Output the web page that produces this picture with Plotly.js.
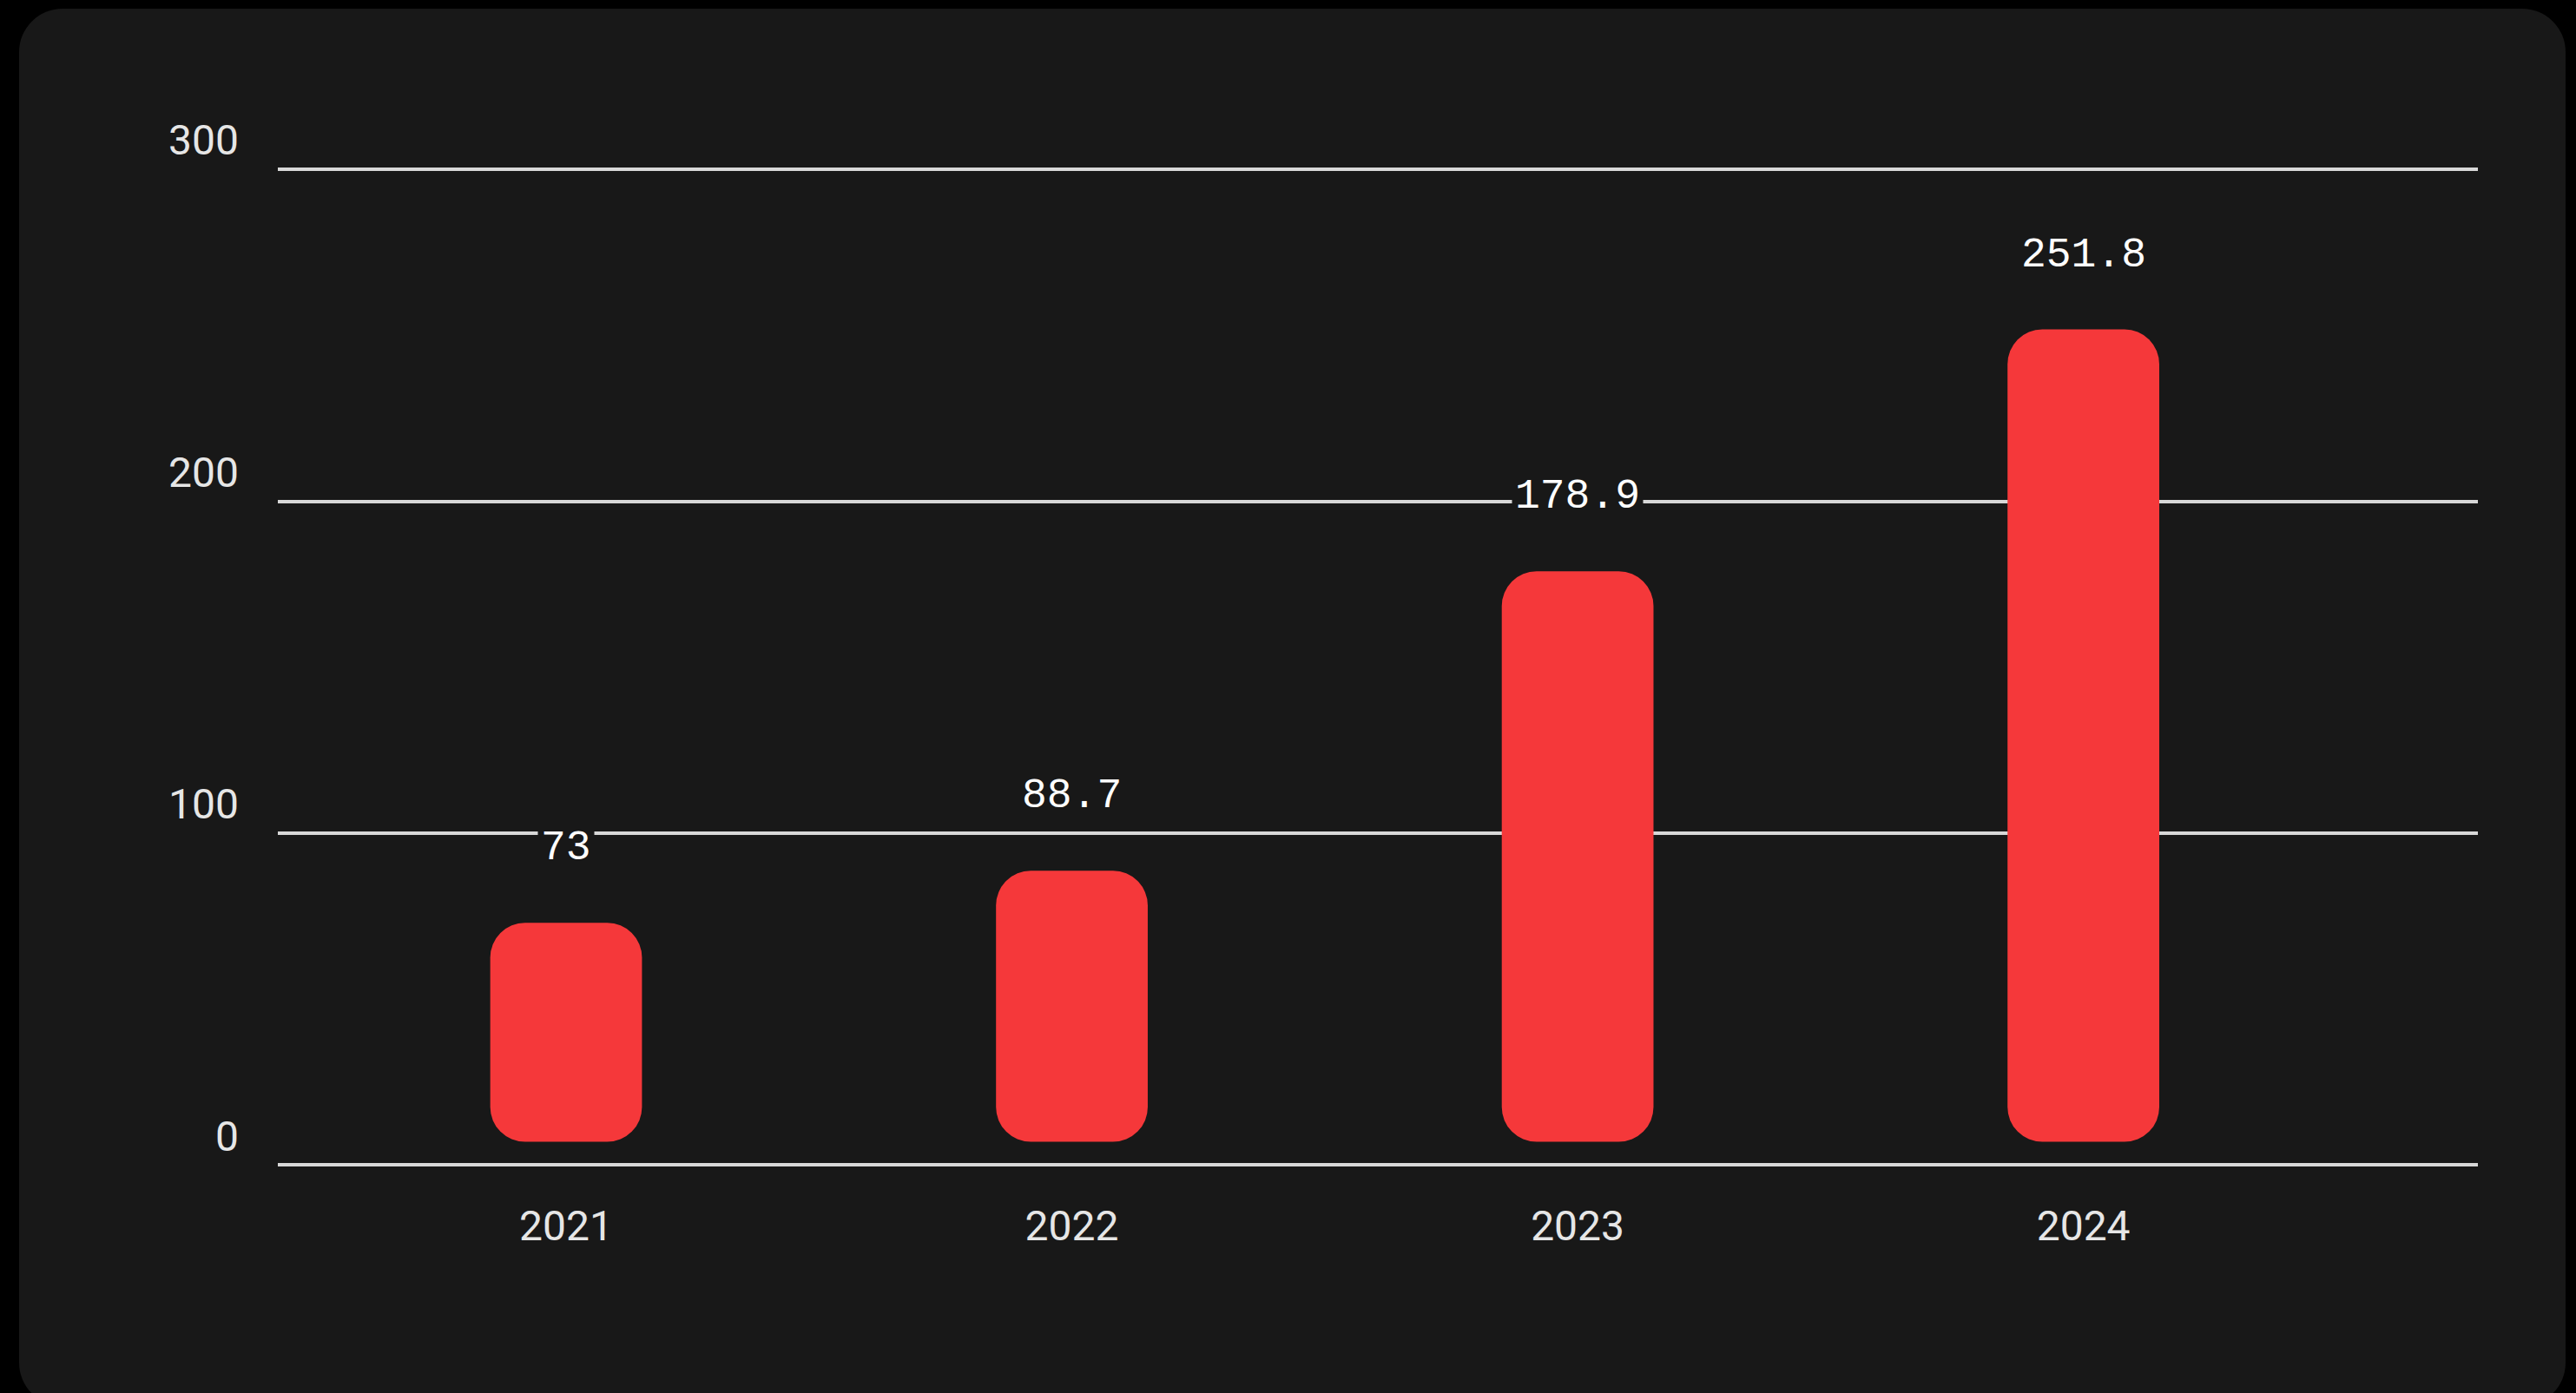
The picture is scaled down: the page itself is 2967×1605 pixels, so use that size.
<!DOCTYPE html>
<html>
<head>
<meta charset="utf-8">
<script src="https://cdn.plot.ly/plotly-3.0.1.min.js"></script>
<style>
  html, body { margin: 0; padding: 0; background: #000000; width: 2967px; height: 1605px; overflow: hidden; }
  #card { position: absolute; left: 22px; top: 10px; width: 2933px; height: 1610px; background: #181818; border-radius: 50px; }
  #chart { position: absolute; left: 0; top: 0; width: 2967px; height: 1605px; }
</style>
</head>
<body>
<div id="card"></div>
<div id="chart"></div>
<script>
// ---- data ----
const years = ['2021', '2022', '2023', '2024'];
const values = [73, 88.7, 178.9, 251.8];
const valueLabels = ['73', '88.7', '178.9', '251.8'];
const yTickValues = [0, 100, 200, 300];
const yTickLabels = ['0', '100', '200', '300'];

// ---- style ----
const RED = '#F5383A';
const GAP = 7;            // visual gap between bar foot and the baseline (axis units)
const BAR_W = 0.3;
const RADIUS = 40;

const bars = {
  type: 'bar', x: years, y: values.map(v => v - GAP), base: GAP,
  width: BAR_W, marker: { color: RED, cornerradius: RADIUS, line: { width: 0 } },
  hoverinfo: 'skip', showlegend: false
};

// annotation x given as category index (numeric-looking category names are read as indices)
const annotations = years.map((yr, i) => ({
  x: years.indexOf(yr), y: values[i], xref: 'x', yref: 'y',
  text: valueLabels[i], showarrow: false,
  yanchor: 'middle', yshift: 86,
  font: { family: 'Liberation Mono, DejaVu Sans Mono, monospace', size: 48, color: '#ffffff' },
  bgcolor: '#181818', borderpad: 3
}));

const layout = {
  width: 2967, height: 1605,
  paper_bgcolor: 'rgba(0,0,0,0)', plot_bgcolor: 'rgba(0,0,0,0)',
  margin: { l: 320, r: 113, t: 157, b: 255, pad: 0 },
  showlegend: false,
  xaxis: {
    type: 'category', range: [-0.57, 3.78], fixedrange: true,
    showgrid: false, zeroline: false, showline: false, ticks: '',
    tickfont: { family: 'Roboto', size: 48, color: '#e6e6e6' },
    ticklabelstandoff: 30
  },
  yaxis: {
    range: [-2, 310], fixedrange: true,
    tickvals: yTickValues, ticktext: yTickLabels,
    showgrid: true, gridcolor: '#d8d8d8', gridwidth: 4,
    zeroline: false, showline: false, ticks: '',
    ticklabelposition: 'outside top',
    ticklabelstandoff: 44,
    tickfont: { family: 'Roboto', size: 48, color: '#e6e6e6' }
  },
  annotations: annotations
};

Plotly.newPlot('chart', [bars], layout, { displayModeBar: false, staticPlot: true });
</script>
</body>
</html>
